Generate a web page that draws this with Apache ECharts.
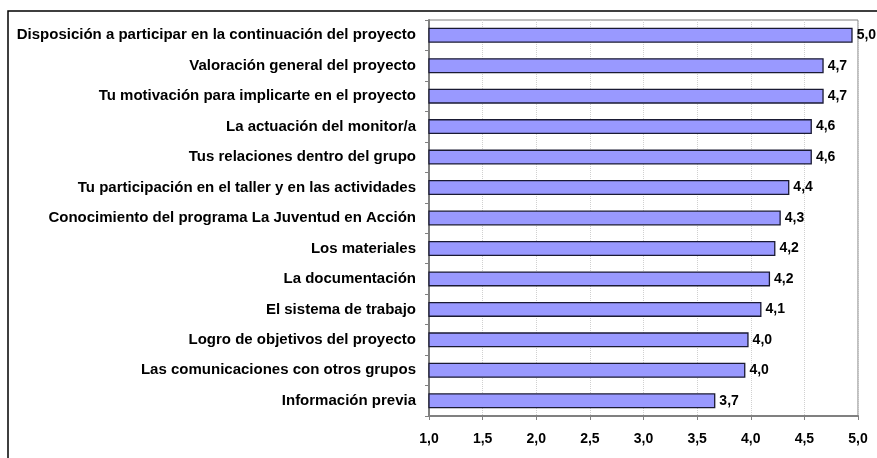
<!DOCTYPE html>
<html>
<head>
<meta charset="utf-8">
<script src="https://cdn.jsdelivr.net/npm/echarts@6/dist/echarts.min.js"></script>
<style>html,body{margin:0;padding:0;background:#fff}#c{width:877px;height:458px}</style>
</head>
<body>
<div id="c"></div>
<script>
var categories = [
  "Disposición a participar en la continuación del proyecto",
  "Valoración general del proyecto",
  "Tu motivación para implicarte en el proyecto",
  "La actuación del monitor/a",
  "Tus relaciones dentro del grupo",
  "Tu participación en el taller y en las actividades",
  "Conocimiento del programa La Juventud en Acción",
  "Los materiales",
  "La documentación",
  "El sistema de trabajo",
  "Logro de objetivos del proyecto",
  "Las comunicaciones con otros grupos",
  "Información previa"
];
var values = [4.95, 4.68, 4.68, 4.57, 4.57, 4.36, 4.28, 4.23, 4.18, 4.10, 3.98, 3.95, 3.67];
var xTicks = [1.0, 1.5, 2.0, 2.5, 3.0, 3.5, 4.0, 4.5, 5.0];

var chart = echarts.init(document.getElementById('c'), null, {renderer: 'canvas'});
var font = 'Liberation Sans, Arial, sans-serif';
chart.setOption({
  animation: false,
  backgroundColor: '#fff',
  grid: {left: 429, right: 19, top: 20, bottom: 42, containLabel: false,
         show: true, borderColor: '#808080', borderWidth: 1},
  xAxis: {
    type: 'value', min: 1, max: 5, interval: 0.5,
    axisLine: {show: true, lineStyle: {color: '#808080', width: 2}},
    axisTick: {show: true, length: 4, lineStyle: {color: '#808080'}},
    axisLabel: {color: '#000', fontFamily: font, fontWeight: 'bold', fontSize: 14, margin: 16,
      formatter: function (v) { return v.toFixed(1).replace('.', ','); }},
    splitLine: {show: true, lineStyle: {color: '#d0d0d0', type: 'dotted'}}
  },
  yAxis: {
    type: 'category', inverse: true, data: categories,
    axisLine: {show: true, lineStyle: {color: '#808080', width: 2}},
    axisTick: {show: true, length: 4, lineStyle: {color: '#808080'}},
    axisLabel: {color: '#000', fontFamily: font, fontWeight: 'bold', fontSize: 15, margin: 13}
  },
  series: [{
    type: 'bar', data: values, barWidth: 15,
    itemStyle: {color: '#9999FF', borderColor: '#1a1a33', borderWidth: 1.3},
    label: {show: true, position: 'right', distance: 4, color: '#000', fontFamily: font,
      fontWeight: 'bold', fontSize: 14,
      formatter: function (p) { return p.value.toFixed(1).replace('.', ','); }}
  }],
  graphic: [{
    type: 'rect', shape: {x: 8, y: 11, width: 900, height: 480},
    style: {fill: 'none', stroke: '#000', lineWidth: 1.5}, silent: true, z: -1
  }]
});
</script>
</body>
</html>
